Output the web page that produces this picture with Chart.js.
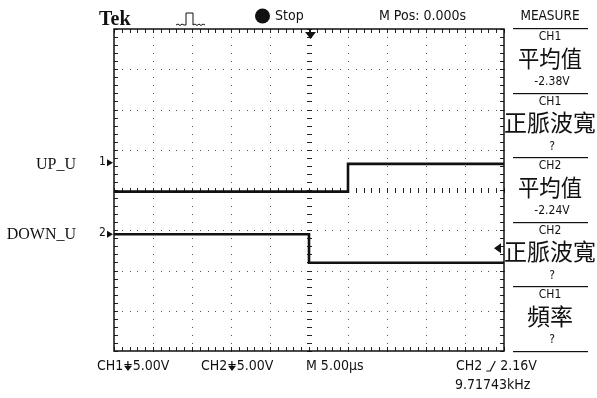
<!DOCTYPE html>
<html>
<head>
<meta charset="utf-8">
<script src="https://cdn.jsdelivr.net/npm/chart.js@4.4.0/dist/chart.umd.min.js"></script>
<style>
  html, body { margin: 0; background: #fff; }
  #wrap { position: relative; width: 597px; height: 398px; }
</style>
</head>
<body>
<div id="wrap"><canvas id="scope"></canvas></div>
<script>
// 5 us/div, 5 V/div, time in us, levels in volts
const ch1Time = [-25, 5, 5, 25];
const ch1Volts = [-3.6, -3.6, -0.16, -0.16];
const ch2Time = [-25, 0, 0, 25];
const ch2Volts = [0, 0, -3.53, -3.53];

const channelNames = ['UP_U', 'DOWN_U'];
const measureChannels = ['CH1', 'CH1', 'CH2', 'CH2', 'CH1'];
const measureNames = ['平均值', '正脈波寬', '平均值', '正脈波寬', '頻率'];
const measureValues = ['-2.38V', '?', '-2.24V', '?', '?'];

const usPerDiv = 5;
const voltsPerDiv = 5;
const ch1Pos = 0.68;   // ground marker, divisions above centre
const ch2Pos = -1.1;
const trigLevelDiv = -1.45;

const SANS = '"DejaVu Sans Condensed", "DejaVu Sans", sans-serif';
const SERIF = '"Liberation Serif", "DejaVu Serif", serif';
const CJK = '"Noto Sans CJK TC", "Noto Sans CJK JP", sans-serif';

function points(ts, vs) {
    return ts.map((t, i) => ({ x: t, y: vs[i] }));
}

// dotted graticule with the Tek style centre rulers
const graticule = {
    id: 'graticule',
    beforeDatasetsDraw(chart) {
        const { ctx, scales } = chart;
        const x = scales.x, y = scales.y1;
        const xs = [], ys = [];
        for (let i = 0; i <= 50; i++) xs.push(Math.round(x.getPixelForValue(x.min + i * usPerDiv / 5)));
        for (let j = 0; j <= 40; j++) ys.push(Math.round(y.getPixelForValue(y.min + j * voltsPerDiv / 5)));
        const left = xs[0], right = xs[50], bottom = ys[0], top = ys[40];
        const cx = xs[25], cy = ys[20];
        ctx.save();
        ctx.fillStyle = '#555';
        for (let i = 5; i < 50; i += 5) {
            if (i === 25) continue;
            ys.forEach(py => ctx.fillRect(xs[i], py, 1, 1));
        }
        for (let j = 5; j < 40; j += 5) {
            if (j === 20) continue;
            xs.forEach(px => ctx.fillRect(px, ys[j], 1, 1));
        }
        ctx.fillStyle = '#222';
        ys.forEach(py => ctx.fillRect(cx - 2, py, 5, 1));
        xs.forEach(px => ctx.fillRect(px, cy - 2, 1, 5));
        xs.forEach(px => {
            ctx.fillRect(px, top, 1, 4);
            ctx.fillRect(px, bottom - 4, 1, 4);
        });
        ys.forEach(py => {
            ctx.fillRect(left, py, 4, 1);
            ctx.fillRect(right - 4, py, 4, 1);
        });
        ctx.strokeStyle = '#111';
        ctx.lineWidth = 1.5;
        ctx.strokeRect(left, top, right - left, bottom - top);
        ctx.restore();
    }
};

function groundArrow(ctx, x, y) {
    ctx.fillRect(x + 3, y - 5, 1.2, 6);
    ctx.fillRect(x, y - 2, 7.5, 1.2);
    ctx.beginPath();
    ctx.moveTo(x, y);
    ctx.lineTo(x + 7.5, y);
    ctx.lineTo(x + 3.7, y + 5);
    ctx.closePath();
    ctx.fill();
}

function seq(ctx, x, y, parts) {
    // parts: strings or functions that draw a symbol and return its width
    parts.forEach(p => {
        if (typeof p === 'string') {
            ctx.fillText(p, x, y);
            x += ctx.measureText(p).width;
        } else {
            x += p(x);
        }
    });
}

const labels = {
    id: 'labels',
    afterDraw(chart) {
        const { ctx, chartArea: a, scales } = chart;
        const x = scales.x, y = scales.y1;
        ctx.save();
        ctx.fillStyle = '#111';
        ctx.strokeStyle = '#111';

        // header
        ctx.font = 'bold 20px ' + SERIF;
        ctx.textAlign = 'left';
        ctx.textBaseline = 'alphabetic';
        ctx.fillText('Tek', 99, 25);
        ctx.textBaseline = 'middle';

        ctx.lineWidth = 1;
        ctx.beginPath();
        ctx.moveTo(176, 25); ctx.lineTo(178, 24); ctx.lineTo(180, 25.5); ctx.lineTo(182, 24); ctx.lineTo(184, 25); ctx.lineTo(186, 25);
        ctx.lineTo(186, 13); ctx.lineTo(193, 13); ctx.lineTo(193, 25);
        ctx.lineTo(195, 24); ctx.lineTo(197, 25.5); ctx.lineTo(199, 24); ctx.lineTo(201, 25.5); ctx.lineTo(203, 24); ctx.lineTo(205, 25);
        ctx.stroke();

        ctx.beginPath();
        ctx.arc(262.5, 16, 7.5, 0, Math.PI * 2);
        ctx.fill();
        ctx.font = '14px ' + SANS;
        ctx.fillText('Stop', 275, 16);
        ctx.fillText('M Pos: 0.000s', 379, 16);

        // trigger position marker
        const tx = Math.round(x.getPixelForValue(0)) + 1;
        ctx.fillRect(tx - 0.5, a.top, 1.5, 3);
        ctx.beginPath();
        ctx.moveTo(tx - 5, a.top + 3);
        ctx.lineTo(tx + 6, a.top + 3);
        ctx.lineTo(tx + 0.5, a.top + 10);
        ctx.closePath();
        ctx.fill();

        // trigger level marker
        const ty = y.getPixelForValue((trigLevelDiv - ch1Pos) * voltsPerDiv);
        ctx.beginPath();
        ctx.moveTo(a.right - 10, ty);
        ctx.lineTo(a.right - 3, ty - 5);
        ctx.lineTo(a.right - 3, ty + 5);
        ctx.closePath();
        ctx.fill();

        // channel ground markers and names
        const g1 = scales.y1.getPixelForValue(0);
        const g2 = scales.y2.getPixelForValue(0);
        ctx.font = '12px ' + SANS;
        [g1, g2].forEach((gy, k) => {
            ctx.textAlign = 'left';
            ctx.fillText(String(k + 1), 99, gy - 1);
            ctx.beginPath();
            ctx.moveTo(107, gy - 3.5);
            ctx.lineTo(113, gy);
            ctx.lineTo(107, gy + 3.5);
            ctx.closePath();
            ctx.fill();
        });
        ctx.font = '16px ' + SERIF;
        ctx.textAlign = 'right';
        ctx.fillText(channelNames[0], 76, g1 + 2);
        ctx.fillText(channelNames[1], 76, g2 + 1);

        // measure panel
        ctx.textAlign = 'center';
        const mx = 550;
        ctx.font = '13.5px ' + SANS;
        ctx.fillText('MEASURE', mx, 16);
        for (let i = 0; i <= measureNames.length; i++) {
            const L = 28 + 64.5 * i;
            ctx.fillRect(513, Math.round(L), 75, 1.2);
            if (i === measureNames.length) break;
            ctx.font = '12px ' + SANS;
            ctx.fillText(measureChannels[i], mx, L + 9);
            ctx.font = '23px ' + CJK;
            ctx.fillText(measureNames[i], mx, L + 30, measureNames[i].length === 3 ? 64 : 92);
            ctx.font = '12px ' + SANS;
            ctx.fillText(measureValues[i], mx + 2, L + 54);
        }

        // bottom status line
        ctx.textAlign = 'left';
        ctx.font = '14px ' + SANS;
        const by = 366;
        const gnd = px => { groundArrow(ctx, px + 1, by); return 9.5; };
        seq(ctx, 97, by, ['CH1', gnd, '5.00V']);
        seq(ctx, 201, by, ['CH2', gnd, '5.00V']);
        ctx.fillText('M 5.00\u00b5s', 306, by);
        const edge = px => {
            ctx.lineWidth = 1.2;
            ctx.beginPath();
            ctx.moveTo(px + 4, by + 5);
            ctx.lineTo(px + 8, by + 5);
            ctx.lineTo(px + 13, by - 5);
            ctx.stroke();
            return 18;
        };
        seq(ctx, 456, by, ['CH2', edge, '2.16V']);
        ctx.fillText('9.71743kHz', 455, 385);
        ctx.restore();
    }
};

const xMin = -5 * usPerDiv, xMax = 5 * usPerDiv;
new Chart(document.getElementById('scope'), {
    type: 'line',
    data: {
        datasets: [
            {
                label: 'CH1',
                data: points(ch1Time, ch1Volts),
                yAxisID: 'y1',
                borderColor: '#111',
                borderWidth: 2.6,
                pointRadius: 0,
                tension: 0
            },
            {
                label: 'CH2',
                data: points(ch2Time, ch2Volts),
                yAxisID: 'y2',
                borderColor: '#111',
                borderWidth: 2.6,
                pointRadius: 0,
                tension: 0
            }
        ]
    },
    options: {
        responsive: true,
        maintainAspectRatio: false,
        animation: false,
        events: [],
        layout: { padding: { left: 114, right: 93, top: 29, bottom: 47 } },
        plugins: { legend: { display: false }, tooltip: { enabled: false } },
        scales: {
            x: { type: 'linear', min: xMin, max: xMax, display: false },
            y1: { type: 'linear', min: (-4 - ch1Pos) * voltsPerDiv, max: (4 - ch1Pos) * voltsPerDiv, display: false },
            y2: { type: 'linear', min: (-4 - ch2Pos) * voltsPerDiv, max: (4 - ch2Pos) * voltsPerDiv, display: false }
        }
    },
    plugins: [graticule, labels]
});
</script>
</body>
</html>
